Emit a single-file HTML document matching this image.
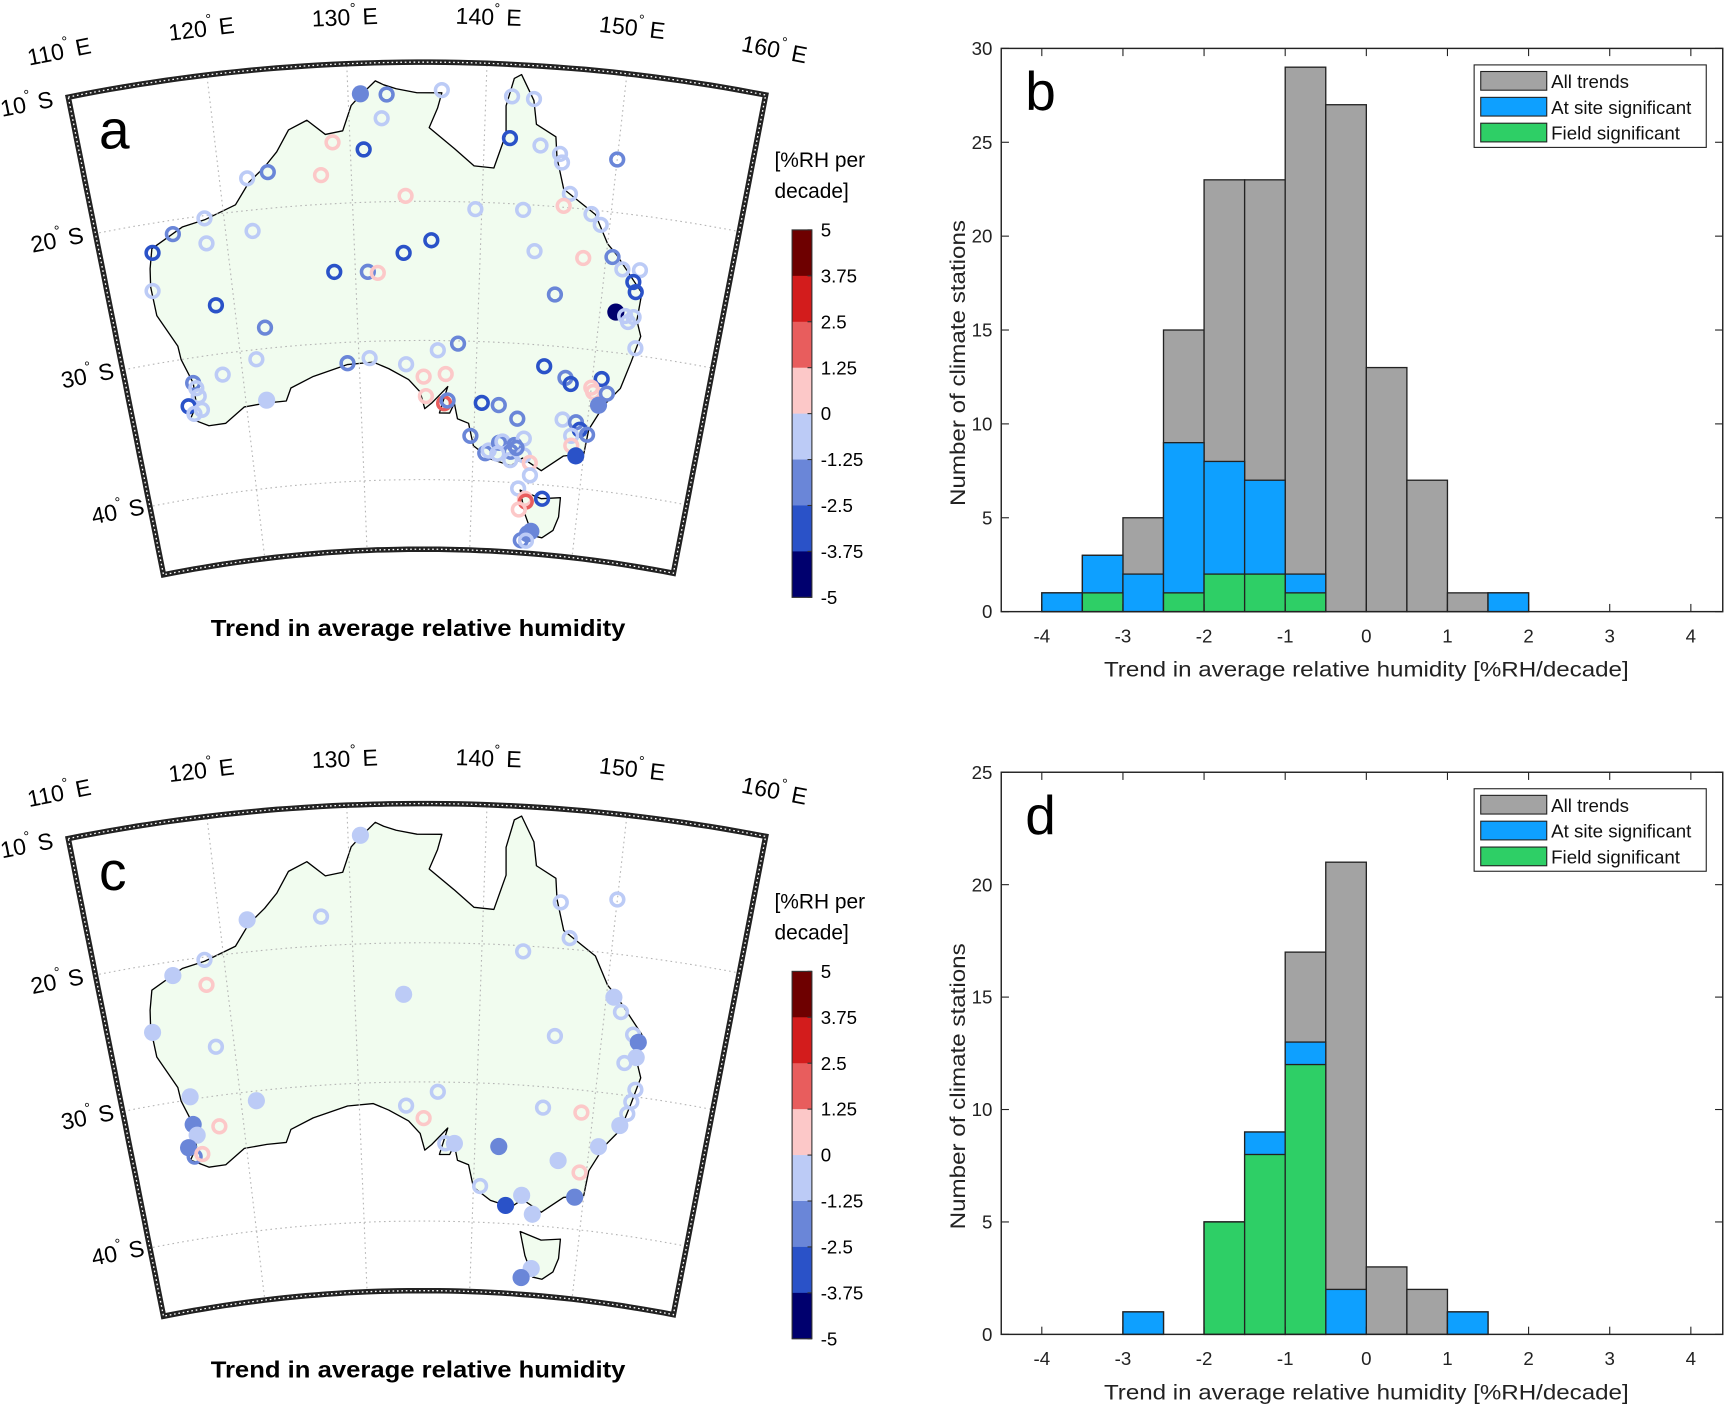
<!DOCTYPE html>
<html><head><meta charset="utf-8"><style>
html,body{margin:0;padding:0;background:#fff;}
svg{display:block;font-family:"Liberation Sans",sans-serif;}
</style></head><body>
<svg id="fig" xmlns="http://www.w3.org/2000/svg" width="1725" height="1405" viewBox="0 0 1568 1277.2">
<rect width="1568" height="1278" fill="#fff"/>
</svg>
<script>
// ---------- DATA ----------
const coastLon=[114.1,116.7,118.5,121,122.2,123.5,124.5,125.5,126.9,128.2,129.5,130.2,130.8,132,132.6,133.5,135,136.8,136.5,135.9,137.8,139.3,140.8,141.6,141.5,142,142.5,143.5,143.8,145.3,145.5,146.2,148.8,150,150.8,153.2,153.1,153.6,153.1,152.5,151.3,150.2,150,148.2,146.3,144.5,143.5,141.6,140,139.5,138.5,138.2,137.8,136.9,137.6,136.2,135.6,135.2,134.2,132.5,131.2,129,126,124,123.5,121.8,119.8,118,116.5,115,115.7,115.7,115,114.9,113.6,113.5,113.7,114.1];
const coastLat=[21.8,20.6,20.3,19.5,18,17,16,14.5,13.9,15,14.8,13,12.4,11.3,11.6,11.9,12.2,12.2,13.3,14.7,16.2,17.4,17.5,15,13,11,10.7,12.5,14.2,15,16.5,18.7,20.3,22.3,23,25.5,27.5,28.6,30.5,32.5,33.8,35.7,37.5,37.8,39,38.2,38.8,38.4,37.5,35.9,35.6,34.5,35.2,35.2,33.3,34.5,34.9,33.7,32.8,32,31.5,31.6,32.3,33,33.9,33.9,34,35,35,34.3,33.4,31.8,30,29,26.6,24.5,23.2,21.8];
const tasLon=[144.5,146.5,148.3,148.3,147.9,146.9,146,145.1,144.5];
const tasLat=[40.5,41.0,40.8,42.2,43.2,43.8,43.7,42.2,40.5];

const stationsA=[[130.9,12.2,-1.9,1],[132.8,12.3,-1.9,0],[136.8,12.0,-0.6,0],[141.9,12.3,-0.6,0],[143.5,12.4,-0.6,0],[132.4,14.0,-0.6,0],[128.7,15.6,0.6,0],[131.0,16.2,-3.1,0],[141.9,15.3,-3.1,0],[144.2,15.7,-0.6,0],[145.7,16.2,-0.6,0],[145.9,16.8,-0.6,0],[150.0,16.2,-1.9,0],[123.7,17.4,-1.9,0],[122.1,17.7,-0.6,0],[127.7,17.9,0.6,0],[134.1,19.6,0.6,0],[139.5,20.5,-0.6,0],[143.2,20.4,-0.6,0],[146.7,19.0,-0.6,0],[146.3,19.9,0.6,0],[148.5,20.3,-0.6,0],[149.3,21.0,-0.6,0],[118.5,20.2,-0.6,0],[115.9,21.0,-1.9,0],[114.1,22.1,-3.1,0],[118.4,22.0,-0.6,0],[122.1,21.5,-0.6,0],[136.1,22.8,-3.1,0],[133.9,23.7,-3.1,0],[128.3,24.9,-3.1,0],[131.0,25.0,-1.9,0],[131.8,25.1,0.6,0],[144.3,23.3,-0.6,0],[148.2,23.5,0.6,0],[150.5,23.2,-1.9,0],[151.4,24.0,-0.6,0],[152.8,23.9,-0.6,0],[152.4,24.8,-3.1,0],[152.7,25.5,-3.1,0],[113.6,24.8,-0.6,0],[118.5,26.5,-3.1,0],[146.2,26.3,-1.9,0],[151.3,27.1,-4.5,1],[152.1,27.3,-0.6,0],[152.8,27.3,-0.6,0],[152.4,27.7,-0.6,0],[153.3,29.5,-0.6,0],[122.3,28.5,-1.9,0],[121.3,30.7,-0.6,0],[118.3,31.5,-0.6,0],[115.7,31.8,-1.9,0],[115.9,32.2,-0.6,0],[116.0,32.8,-0.6,0],[115.0,33.4,-3.1,0],[115.4,34.0,-0.6,0],[116.1,33.8,-0.6,0],[121.8,33.7,-0.6,1],[129.0,31.5,-1.9,0],[130.9,31.2,-0.6,0],[134.0,31.7,-0.6,0],[136.7,30.7,-0.6,0],[138.4,30.2,-1.9,0],[135.5,32.6,0.6,0],[137.4,32.4,0.6,0],[135.7,34.0,0.6,0],[137.3,34.5,1.9,0],[137.6,34.3,-1.9,0],[140.6,34.4,-3.1,0],[142.1,34.5,-1.9,0],[145.8,31.5,-3.1,0],[147.7,32.2,-1.9,0],[148.2,32.6,-3.1,0],[150.8,32.0,-3.1,0],[150.0,32.7,0.6,0],[150.2,33.0,0.6,0],[151.4,33.0,-1.9,0],[150.8,33.9,-1.9,1],[143.8,35.4,-1.9,0],[147.8,35.2,-0.6,0],[149.0,35.3,-1.9,0],[149.4,35.8,-3.1,0],[148.7,36.3,-0.6,0],[148.8,37.0,0.6,0],[149.3,37.7,-3.1,1],[150.1,36.1,-1.9,0],[139.7,36.8,-1.9,0],[141.1,38.0,-1.9,0],[141.4,37.8,-0.6,0],[142.3,37.2,-1.9,0],[142.6,37.1,-0.6,0],[143.4,37.8,-1.9,0],[143.7,37.3,-1.9,0],[144.5,36.8,-0.6,0],[144.6,38.0,-0.6,0],[145.2,38.5,0.6,0],[142.2,38.0,-0.6,0],[143.4,38.4,-0.6,0],[143.9,37.5,-1.9,0],[145.3,39.4,-0.6,0],[144.3,40.4,-0.6,0],[145.0,41.1,0.6,0],[145.1,41.3,1.9,0],[146.6,41.0,-3.1,0],[144.5,41.9,0.6,0],[145.5,43.6,-1.9,1],[145.8,43.4,-1.9,1],[144.9,44.1,-1.9,0],[145.4,44.1,-0.6,0]];

const stationsC=[[130.9,12.2,-0.6,1],[122.1,17.7,-0.6,1],[127.7,17.9,-0.6,0],[145.8,16.7,-0.6,0],[150.0,16.1,-0.6,0],[146.7,19.2,-0.6,0],[143.2,20.4,-0.6,0],[118.5,20.2,-0.6,0],[115.9,21.0,-0.6,1],[118.4,22.0,0.6,0],[133.9,23.7,-0.6,1],[150.6,23.1,-0.6,1],[151.3,24.1,-0.6,0],[152.5,25.6,-0.6,0],[153.0,26.1,-1.9,1],[153.0,27.2,-0.6,1],[152.1,27.7,-0.6,0],[113.6,24.8,-0.6,1],[118.5,26.5,-0.6,0],[146.2,26.3,-0.6,0],[153.3,29.5,-0.6,0],[153.1,30.4,-0.6,0],[152.9,31.3,-0.6,0],[152.4,32.2,-0.6,1],[115.8,29.8,-0.6,1],[121.3,30.7,-0.6,1],[115.7,31.8,-1.9,1],[115.9,32.6,-0.6,1],[115.0,33.4,-1.9,1],[115.4,34.1,-1.9,0],[116.1,34.0,0.6,0],[117.9,32.2,0.6,0],[134.0,31.7,-0.6,0],[136.7,30.7,-0.6,0],[135.5,32.6,0.6,0],[137.4,34.4,-0.6,0],[138.2,34.4,-0.6,1],[142.1,34.5,-1.9,1],[145.7,31.5,-0.6,0],[149.0,31.6,0.6,0],[150.8,33.9,-0.6,1],[147.4,35.2,-0.6,1],[149.4,35.9,0.6,0],[149.2,37.7,-1.9,1],[140.6,37.4,-0.6,0],[143.0,38.7,-3.1,1],[144.4,37.9,-0.6,1],[145.5,39.2,-0.6,1],[145.8,43.1,-0.6,1],[144.9,43.8,-1.9,1]];

const cbTicks=["5","3.75","2.5","1.25","0","-1.25","-2.5","-3.75","-5"];
const cbColors=['#6e0000','#d31c1c','#e85d5d','#fcc8c8','#bccbf6','#6a86d8','#2a52c8','#00006e'];

const binStarts=[-4,-3.5,-3,-2.5,-2,-1.5,-1,-0.5,0,0.5,1,1.5];
const allB=[1,3,5,15,23,23,29,27,13,7,1,1];
const siteB=[1,3,2,9,8,7,2,0,0,0,0,1];
const fieldB=[0,1,0,1,2,2,1,0,0,0,0,0];
const allD=[0,0,1,0,5,9,17,21,3,2,1,0];
const siteD=[0,0,1,0,5,9,13,2,0,0,1,0];
const fieldD=[0,0,0,0,5,8,12,0,0,0,0,0];
const xTicks=[-4,-3,-2,-1,0,1,2,3,4];
const yTicksB=[0,5,10,15,20,25,30];
const yTicksD=[0,5,10,15,20,25];

// ---------- HELPERS ----------
const NS='http://www.w3.org/2000/svg';
const svg=document.getElementById('fig');
function mk(tag,attrs,parent,txt){const e=document.createElementNS(NS,tag);for(const k in attrs)e.setAttribute(k,attrs[k]);if(txt!==undefined)e.textContent=txt;(parent||svg).appendChild(e);return e;}
const K=0.444, LON0=135.4;
function proj(lon,lat,oy){const r=1520-(lat-20)*12.65,t=(lon-LON0)*K*Math.PI/180;return [384+r*Math.sin(t),1703-r*Math.cos(t)+oy];}
function colorOf(v){let i=Math.floor((5-v)/1.25);i=Math.max(0,Math.min(7,i));return cbColors[i];}
function pathLL(lons,lats,oy){return lons.map((l,i)=>{const p=proj(l,lats[i],oy);return (i?'L':'M')+p[0].toFixed(1)+' '+p[1].toFixed(1);}).join(' ')+' Z';}

function drawMap(oy,stations,letter,nm){
  const g=mk('g',{});
  
  
  const pts=[];
  for(let l=110;l<=160;l+=1)pts.push(proj(l,10,oy));
  for(let a=10;a<=45;a+=1)pts.push(proj(160,a,oy));
  for(let l=160;l>=110;l-=1)pts.push(proj(l,45,oy));
  for(let a=45;a>=10;a-=1)pts.push(proj(110,a,oy));
  const d=pts.map((p,i)=>(i?'L':'M')+p[0].toFixed(1)+' '+p[1].toFixed(1)).join(' ')+' Z';
  const cid='clip'+letter;
  const cp=mk('clipPath',{id:cid},g);mk('path',{d:d},cp);
  const inner=mk('g',{'clip-path':'url(#'+cid+')'},g);
  mk('path',{d:d,fill:'#fff'},inner);
  const land=mk('path',{d:pathLL(coastLon,coastLat,oy)+' '+pathLL(tasLon,tasLat,oy),fill:'#f1fcef',stroke:'#000','stroke-width':1.2,'stroke-linejoin':'round'},inner);
  
  
  for(const lon of [120,130,140,150]){const a=proj(lon,8,oy),b=proj(lon,46,oy);
    mk('line',{x1:a[0],y1:a[1],x2:b[0],y2:b[1],stroke:'#b5b5b5','stroke-width':1,'stroke-dasharray':'1.5 3'},inner);}
  for(const lat of [20,30,40]){const q=[];for(let l=108;l<=162;l+=1)q.push(proj(l,lat,oy));
    mk('path',{d:q.map((p,i)=>(i?'L':'M')+p[0].toFixed(1)+' '+p[1].toFixed(1)).join(' '),fill:'none',stroke:'#b5b5b5','stroke-width':1,'stroke-dasharray':'1.5 3'},inner);}
  stations.forEach(s=>{const p=proj(s[0],s[1],oy);const c=colorOf(s[2]);
    const e=s[3]?mk('circle',{cx:p[0],cy:p[1],r:7.8,fill:c},inner):mk('circle',{cx:p[0],cy:p[1],r:5.8,fill:'none',stroke:c,'stroke-width':3.2},inner);
    
    });
  const fr=mk('path',{d:d,fill:'none',stroke:'#222','stroke-width':5},g);
  
  
  mk('path',{d:d,fill:'none',stroke:'#fff','stroke-width':1.2,'stroke-dasharray':'1.5 2.5'},g);
  [110,120,130,140,150,160].forEach(lon=>{const p=proj(lon,6.8,oy);const ang=(lon-LON0)*K;
    const t=mk('text',{x:p[0],y:p[1],'font-size':21,'text-anchor':'middle','dominant-baseline':'middle',transform:`rotate(${ang.toFixed(2)} ${p[0].toFixed(1)} ${p[1].toFixed(1)})`},g);
    
    
    mk('tspan',{},t,String(lon));mk('tspan',{'font-size':13,dy:-9},t,'°');mk('tspan',{dy:9},t,' E');});
  [10,20,30,40].forEach(lat=>{const p=proj(107.0,lat,oy);const ang=(110-LON0)*K;
    const t=mk('text',{x:p[0],y:p[1],'font-size':21,'text-anchor':'middle','dominant-baseline':'middle',transform:`rotate(${ang.toFixed(2)} ${p[0].toFixed(1)} ${p[1].toFixed(1)})`},g);
    
    
    mk('tspan',{},t,String(lat));mk('tspan',{'font-size':13,dy:-9},t,'°');mk('tspan',{dy:9},t,' S');});
  const pl=mk('text',{x:90,y:135+oy,'font-size':50},g,letter);
  
  
  const cb=mk('g',{},g);
  
  
  const cbTop=209+oy,cbH=334,seg=cbH/8;
  cbColors.forEach((c,i)=>mk('rect',{x:720,y:cbTop+i*seg,width:18,height:seg+0.3,fill:c},cb));
  mk('rect',{x:720,y:cbTop,width:18,height:cbH,fill:'none',stroke:'#333','stroke-width':1},cb);
  cbTicks.forEach((t,i)=>{mk('line',{x1:734,x2:738,y1:cbTop+i*cbH/8,y2:cbTop+i*cbH/8,stroke:'#333'},cb);
    mk('text',{x:746,y:cbTop+i*cbH/8+6,'font-size':17},cb,t);});
  const u1=mk('text',{x:704,y:152+oy,'font-size':19},g,'[%RH per');
  
  
  mk('text',{x:704,y:180+oy,'font-size':19},g,'decade]');
  const tt=mk('text',{x:380,y:578+oy,'font-size':21,'font-weight':'bold','text-anchor':'middle',textLength:377,lengthAdjust:'spacingAndGlyphs'},g,'Trend in average relative humidity');
  
  
}
drawMap(0,stationsA,'a','map-panel-a');
drawMap(674,stationsC,'c','map-panel-c');

function drawHist(top,bottom,ymax,yTicks,all,site,field,letter,nm){
  const g=mk('g',{});
  
  
  const xs=v=>1242+v*73.75, ys=c=>bottom-c*(bottom-top)/ymax;
  const L=xs(-4.5),R=1566;
  [[all,'#a3a3a3','bar-all'],[site,'#0ea0ff','bar-site'],[field,'#2ecf66','bar-field']].forEach(([arr,col,n])=>{
    arr.forEach((v,i)=>{if(v<=0)return;const x0=xs(binStarts[i]),x1=xs(binStarts[i]+0.5);
      const r=mk('rect',{x:x0,y:ys(v),width:x1-x0,height:ys(0)-ys(v),fill:col,stroke:'#222','stroke-width':1.2},g);
      
      });});
  mk('rect',{x:L,y:top,width:R-L,height:bottom-top,fill:'none',stroke:'#222','stroke-width':1.3},g);
  xTicks.forEach(t=>{const x=xs(t);mk('line',{x1:x,x2:x,y1:bottom,y2:bottom-7,stroke:'#222'},g);mk('line',{x1:x,x2:x,y1:top,y2:top+7,stroke:'#222'},g);
    const tl=mk('text',{x:x,y:bottom+28,'font-size':17,'text-anchor':'middle',fill:'#222'},g,String(t));
    
    });
  yTicks.forEach(t=>{const y=ys(t);mk('line',{x1:L,x2:L+7,y1:y,y2:y,stroke:'#222'},g);mk('line',{x1:R,x2:R-7,y1:y,y2:y,stroke:'#222'},g);
    const tl=mk('text',{x:L-8,y:y+6,'font-size':17,'text-anchor':'end',fill:'#222'},g,String(t));
    
    });
  const xl=mk('text',{x:1242,y:bottom+59,'font-size':19,'text-anchor':'middle',fill:'#222',textLength:477,lengthAdjust:'spacingAndGlyphs'},g,'Trend in average relative humidity [%RH/decade]');
  
  
  const yc=(top+bottom)/2+30;
  const yl=mk('text',{x:877,y:yc,'font-size':19,'text-anchor':'middle',fill:'#222',transform:`rotate(-90 877 ${yc})`,textLength:260,lengthAdjust:'spacingAndGlyphs'},g,'Number of climate stations');
  
  
  const pl=mk('text',{x:932,y:top+56,'font-size':50},g,letter);
  
  
  const lg=mk('g',{},g);
  
  
  const ly=top+15;
  mk('rect',{x:1340,y:ly,width:211,height:75,fill:'#fff',stroke:'#222','stroke-width':1},lg);
  [['All trends','#a3a3a3'],['At site significant','#0ea0ff'],['Field significant','#2ecf66']].forEach(([t,c],i)=>{
    const e=mk('g',{},lg);
    
    
    mk('rect',{x:1346,y:ly+6+i*23.5,width:60,height:17,fill:c,stroke:'#222','stroke-width':1},e);
    mk('text',{x:1410,y:ly+21+i*23.5,'font-size':17,fill:'#111'},e,t);});
}
drawHist(44,556,30,yTicksB,allB,siteB,fieldB,'b','histogram-panel-b');
drawHist(702,1213,25,yTicksD,allD,siteD,fieldD,'d','histogram-panel-d');
</script>
</body></html>
